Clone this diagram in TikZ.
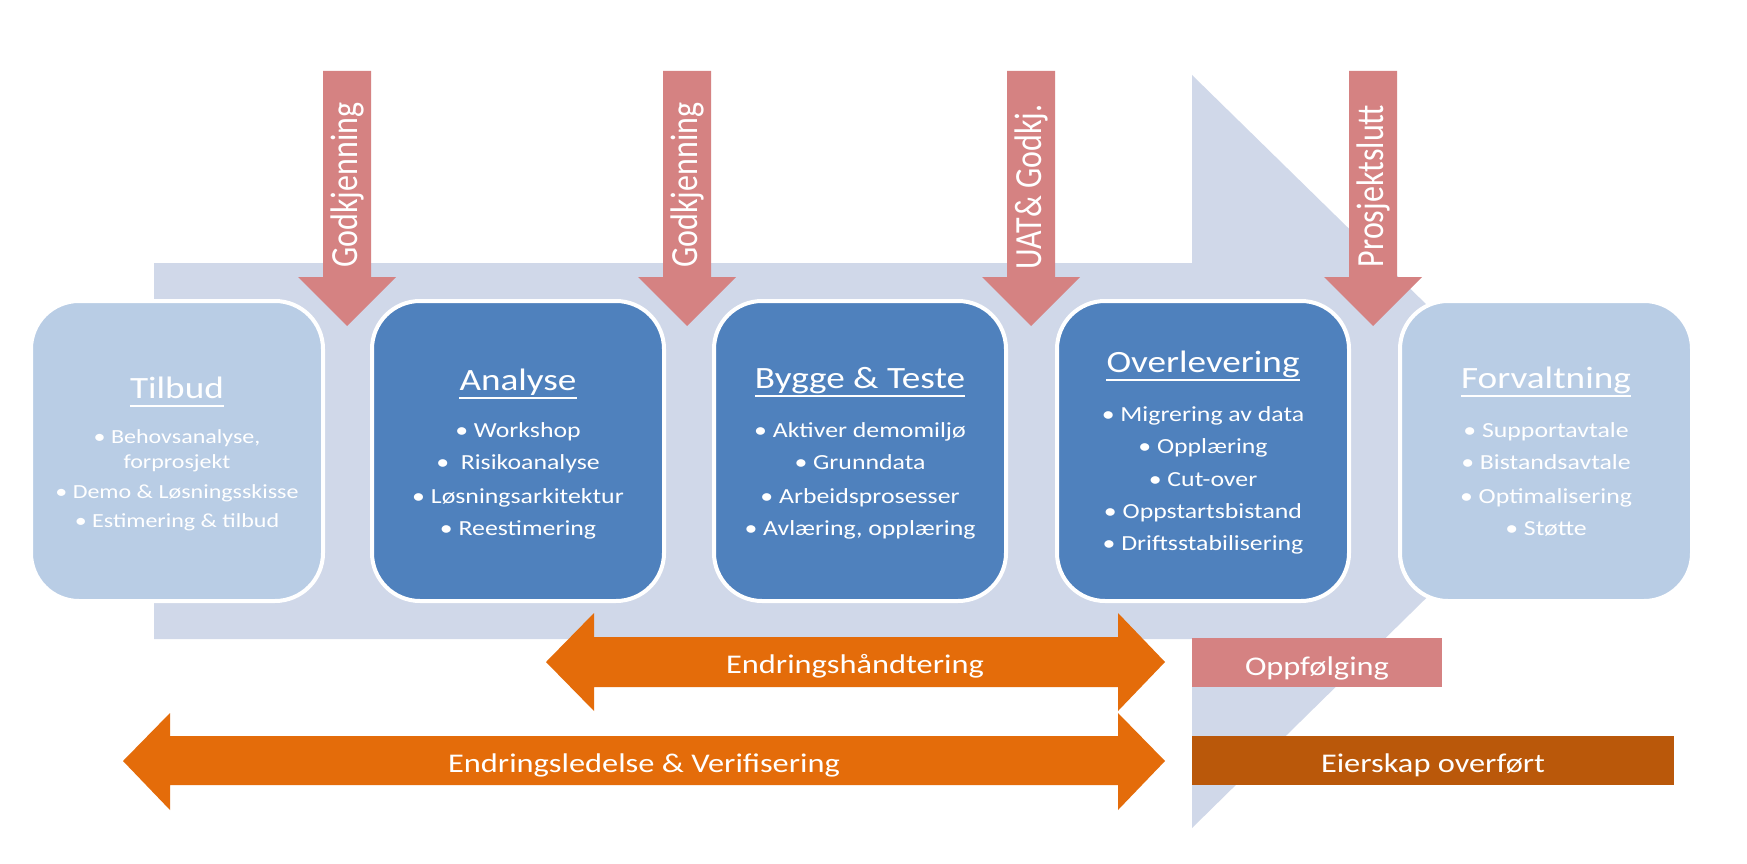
\documentclass[tikz,border=0pt]{standalone}
\usepackage{fontspec}
\usepackage{graphicx}
\setmainfont{Carlito}[FakeStretch=1.2]
\newfontfamily\vfont{Carlito}
\usetikzlibrary{calc}
\definecolor{bgarrow}{RGB}{208,216,233}
\definecolor{lightbox}{RGB}{185,205,229}
\definecolor{darkbox}{RGB}{79,129,189}
\definecolor{gatecol}{RGB}{213,130,130}
\definecolor{orangec}{RGB}{228,108,10}
\definecolor{darkorange}{RGB}{186,88,10}
\tikzset{
  phasebox/.style={draw=white, line width=4pt, rounded corners=48pt,
    minimum width=292pt, minimum height=300pt, inner sep=0pt},
  ptitle/.style={anchor=base, inner sep=0pt, text=white, font=\fontsize{31}{37}\selectfont},
  pbullet/.style={anchor=base, inner sep=0pt, text=white, font=\fontsize{21.5}{26}\selectfont},
  tbullet/.style={anchor=base, inner sep=0pt, text=white, font=\fontsize{20}{24}\selectfont},
  uline/.style={draw=white, line width=2pt},
  vlabel/.style={rotate=90, inner sep=0pt, text=white, font=\vfont\fontsize{32}{38}\selectfont},
  barlabel/.style={anchor=base, inner sep=0pt, text=white, font=\fontsize{27}{32}\selectfont},
  gate/.pic={\fill[gatecol] (-24,0) -- (24,0) -- (24,206) -- (49,206) -- (0,255) -- (-49,206) -- (-24,206) -- cycle;}
}
\begin{document}
\begin{tikzpicture}[x=1pt,y=-1pt]
\useasboundingbox (0,0) rectangle (1747,864);
\fill[white] (0,0) rectangle (1747,864);

% background arrow
\fill[bgarrow] (154,263) -- (1192,263) -- (1192,75) -- (1576,451) -- (1192,828) -- (1192,639) -- (154,639) -- cycle;

% gate arrows
\pic at (347,71) {gate};
\pic at (687,71) {gate};
\pic at (1031,71) {gate};
\pic at (1373,71) {gate};
\node[vlabel] (g1) at (347,185) {\scalebox{1}[1.2]{Godkjenning}};
\node[vlabel] (g2) at (687,185) {\scalebox{1}[1.2]{Godkjenning}};
\node[vlabel] (g3) at (1031,187) {\scalebox{1}[1.2]{UAT\& Godkj.}};
\node[vlabel] (g4) at (1373,186) {\scalebox{1}[1.2]{Prosjektslutt}};

% phase boxes
\node[phasebox, fill=lightbox] (tilbud) at (177,451) {};
\node[phasebox, fill=darkbox] (analyse) at (518,451) {};
\node[phasebox, fill=darkbox] (bygge) at (860,451) {};
\node[phasebox, fill=darkbox] (overl) at (1203,451) {};
\node[phasebox, fill=lightbox] (forv) at (1546,451) {};

% titles
\node[ptitle] (tT) at (177,398) {Tilbud};
\node[ptitle] (aT) at (518,390) {Analyse};
\node[ptitle] (bT) at (860,388) {Bygge \& Teste};
\node[ptitle] (oT) at (1203,372) {Overlevering};
\node[ptitle] (fT) at (1546,388) {Forvaltning};
\foreach \n in {tT,aT,bT,oT,fT}
  \draw[uline] ($(\n.base west)+(0,8)$) -- ($(\n.base east)+(0,8)$);

% bullets
\foreach \t/\y [count=\k] in {{• Behovsanalyse,}/443,{forprosjekt}/468,{• Demo \& Løsningsskisse}/498,{• Estimering \& tilbud}/527}
  \node[tbullet] (tb\k) at (177,\y) {\t};
\foreach \t/\y [count=\k] in {{• Workshop}/437,{•\ \ Risikoanalyse}/469,{• Løsningsarkitektur}/503,{• Reestimering}/535}
  \node[pbullet] (ab\k) at (518,\y) {\t};
\foreach \t/\y [count=\k] in {{• Aktiver demomiljø}/437,{• Grunndata}/469,{• Arbeidsprosesser}/503,{• Avlæring, opplæring}/535}
  \node[pbullet] (bb\k) at (860,\y) {\t};
\foreach \t/\y [count=\k] in {{• Migrering av data}/421,{• Opplæring}/453,{• Cut-over}/486,{• Oppstartsbistand}/518,{• Driftsstabilisering}/550}
  \node[pbullet] (ob\k) at (1203,\y) {\t};
\foreach \t/\y [count=\k] in {{• Supportavtale}/437,{• Bistandsavtale}/469,{• Optimalisering}/503,{• Støtte}/535}
  \node[pbullet] (fb\k) at (1546,\y) {\t};

% orange double arrows
\fill[orangec] (546,662) -- (594,613) -- (594,637) -- (1118,637) -- (1118,613) -- (1165,662)
  -- (1118,711) -- (1118,687) -- (594,687) -- (594,711) -- cycle;
\node[barlabel] (endh) at (855,673) {Endringshåndtering};
\fill[orangec] (123,761) -- (170,713) -- (170,736) -- (1118,736) -- (1118,713) -- (1165,761)
  -- (1118,810) -- (1118,785) -- (170,785) -- (170,810) -- cycle;
\node[barlabel] (endl) at (644,772) {Endringsledelse \& Verifisering};

% right boxes
\fill[gatecol] (1192,638) rectangle (1442,687);
\node[barlabel] (oppf) at (1317,675) {Oppfølging};
\fill[darkorange] (1192,736) rectangle (1674,785);
\node[barlabel] (eier) at (1433,772) {Eierskap overført};
\end{tikzpicture}
\end{document}
